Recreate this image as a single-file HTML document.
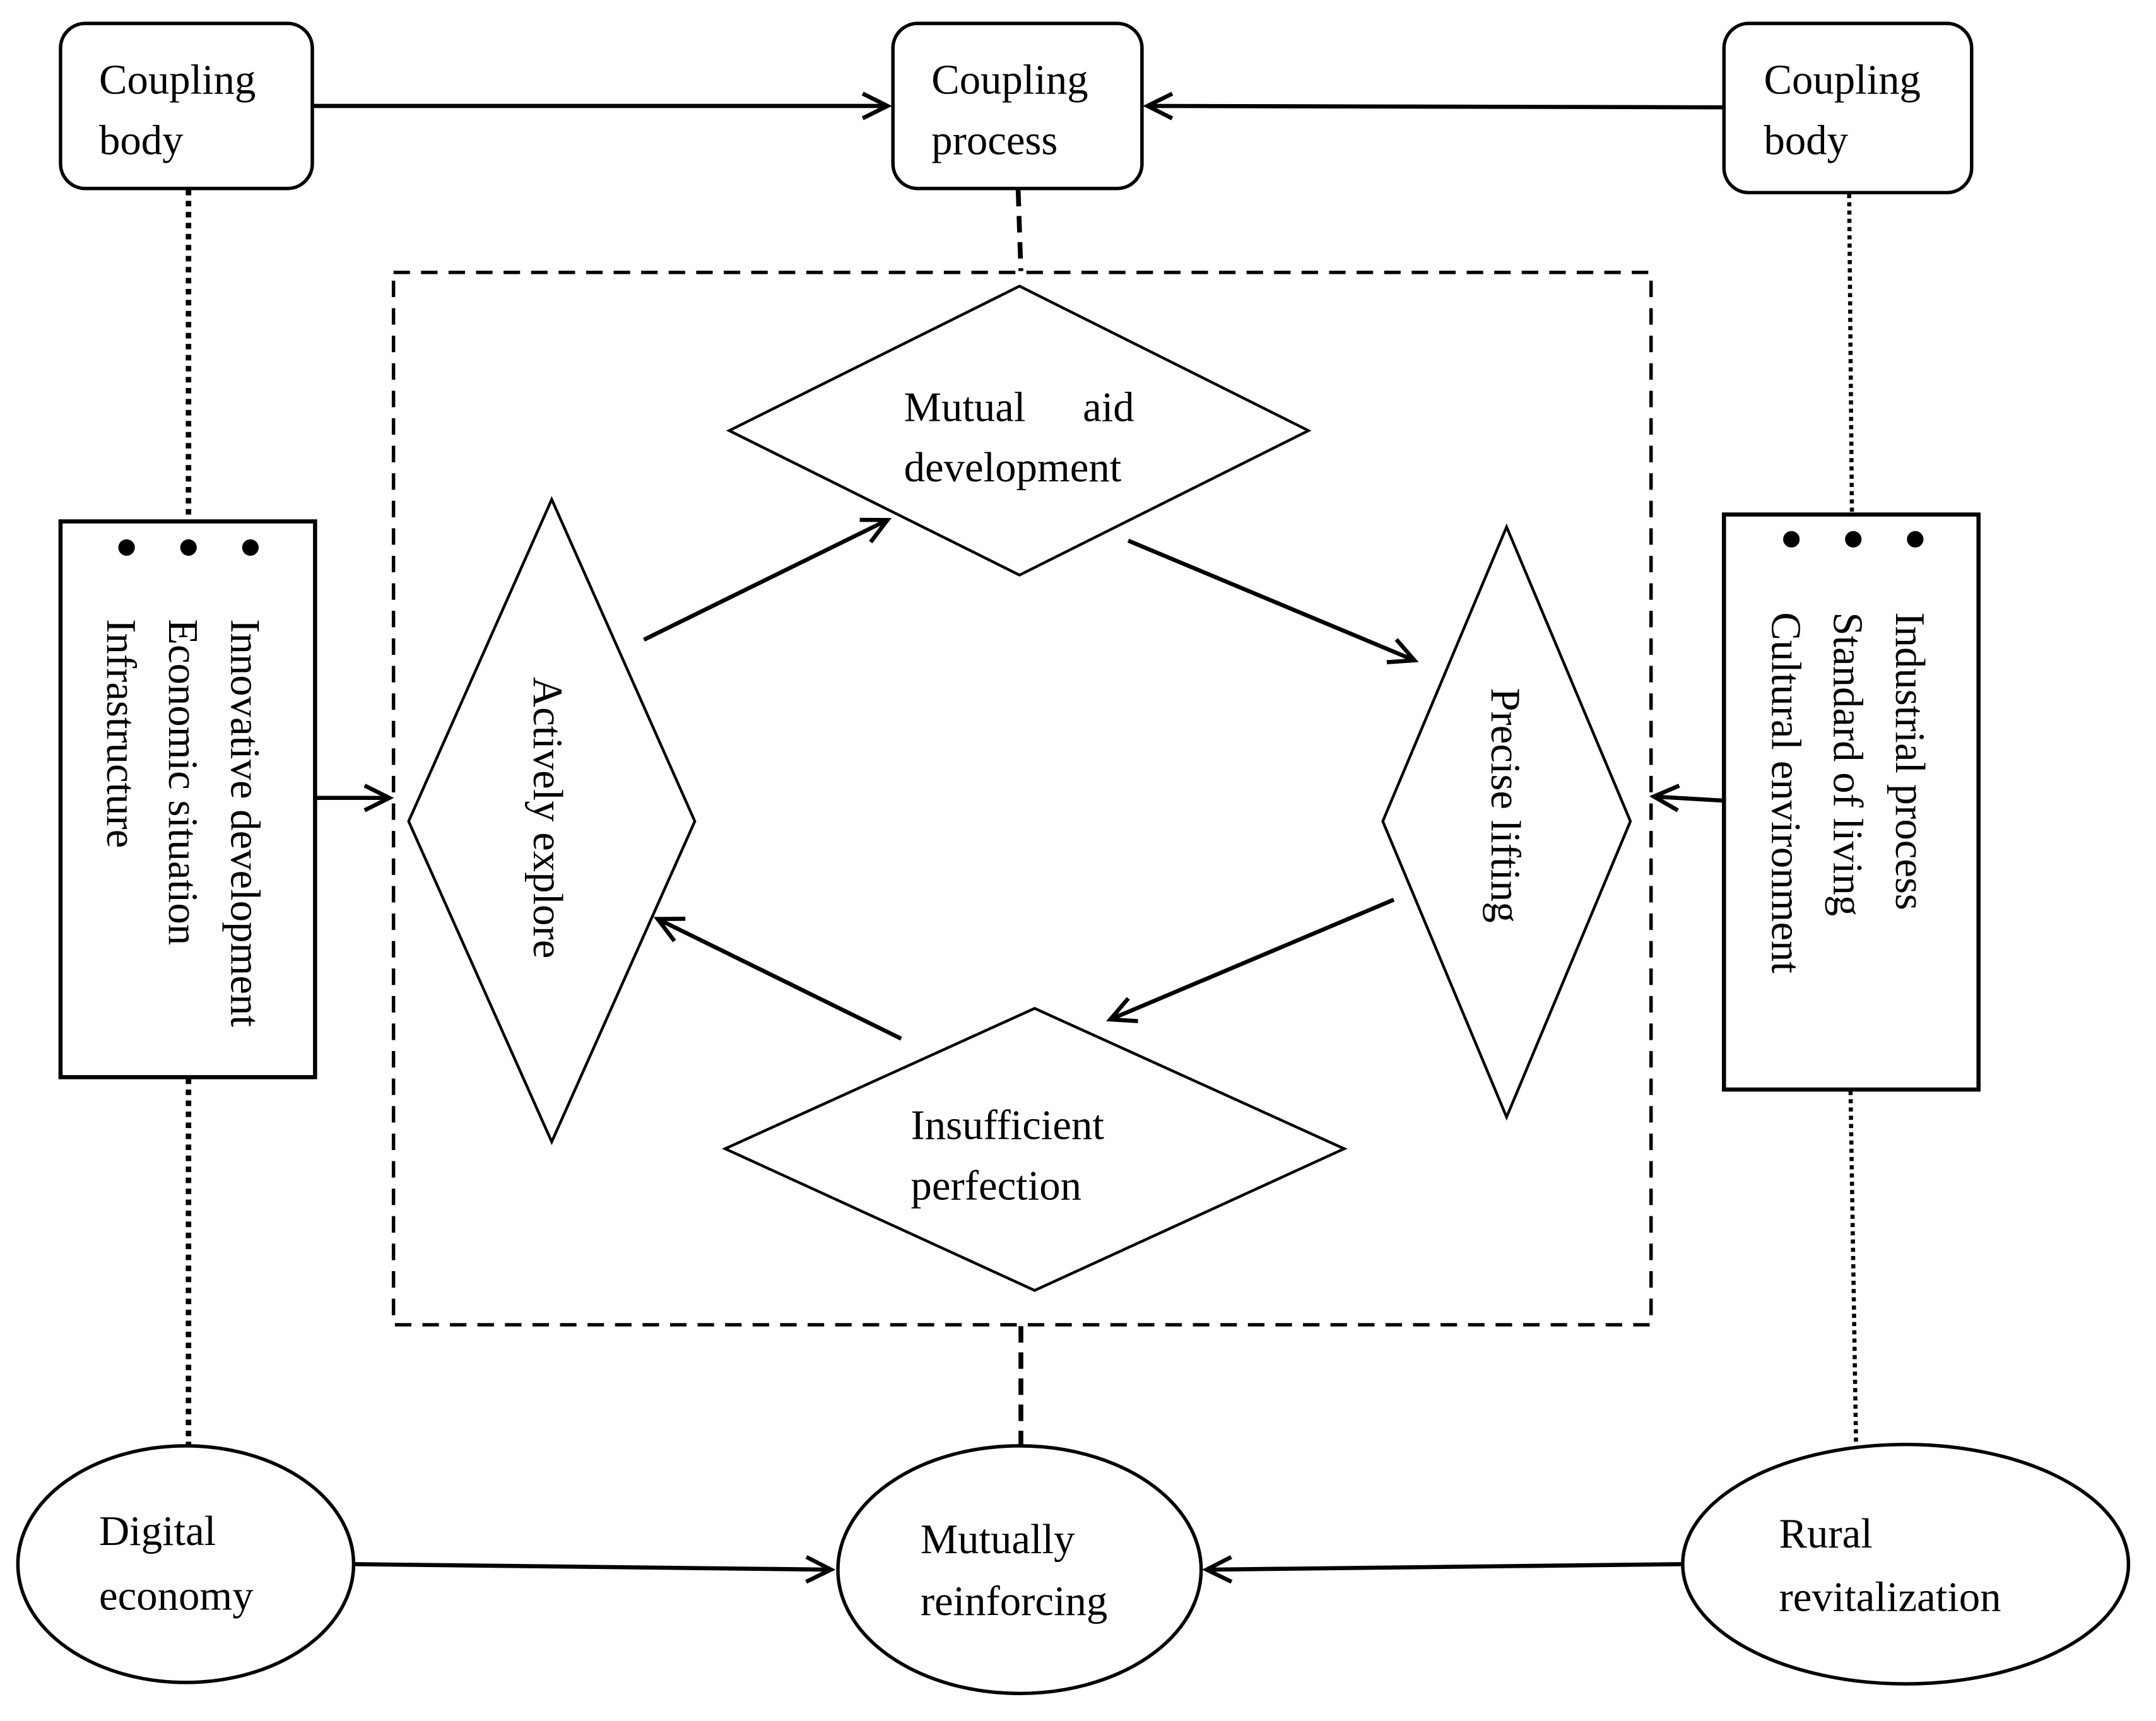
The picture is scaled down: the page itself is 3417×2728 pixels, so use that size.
<!DOCTYPE html>
<html><head><meta charset="utf-8"><style>
html,body{margin:0;padding:0;background:#fff;}
svg{display:block;}
text{font-family:"Liberation Serif",serif;font-size:30.6px;fill:#000;}
</style></head><body>
<svg width="3417" height="2728" viewBox="0 0 1567 1251" xmlns="http://www.w3.org/2000/svg">
<defs>
<marker id="a" markerWidth="24" markerHeight="24" refX="20" refY="12" orient="auto" markerUnits="userSpaceOnUse">
<path d="M2,3 L20,12 L2,21" fill="none" stroke="#000" stroke-width="3"/>
</marker>
</defs>
<g fill="none" stroke="#000">
<rect x="44" y="17" width="183" height="120" rx="18" stroke-width="2.5"/>
<rect x="649" y="17" width="181" height="120" rx="18" stroke-width="2.5"/>
<rect x="1253" y="17" width="180" height="123" rx="18" stroke-width="2.5"/>
<line x1="227" y1="77" x2="645" y2="77" stroke-width="3" marker-end="url(#a)"/>
<line x1="1253" y1="78" x2="834" y2="77" stroke-width="3" marker-end="url(#a)"/>
<line x1="137" y1="138" x2="137" y2="378" stroke-width="4" stroke-dasharray="4,4"/>
<line x1="137" y1="784" x2="137" y2="1050" stroke-width="4" stroke-dasharray="4,4"/>
<line x1="1344" y1="141" x2="1346" y2="373" stroke-width="3" stroke-dasharray="3,3"/>
<line x1="1345" y1="793" x2="1349" y2="1050" stroke-width="3" stroke-dasharray="3,3"/>
<line x1="740" y1="138" x2="742" y2="197" stroke-width="3.5" stroke-dasharray="12,7"/>
<line x1="742" y1="964" x2="742" y2="1050" stroke-width="3.5" stroke-dasharray="12,7"/>
<rect x="286" y="198" width="914" height="765" stroke-width="2.5" stroke-dasharray="12,8"/>
<rect x="44" y="379" width="185" height="404" stroke-width="3"/>
<rect x="1253" y="374" width="185" height="418" stroke-width="3"/>
<line x1="229" y1="580" x2="283" y2="580" stroke-width="3" marker-end="url(#a)"/>
<line x1="1253" y1="582" x2="1202" y2="579" stroke-width="3" marker-end="url(#a)"/>
<polygon points="530,313 741,208 951,313 741,418" stroke-width="2"/>
<polygon points="401,363 505,597 401,830 297,597" stroke-width="2"/>
<polygon points="1095,383 1185,597 1095,812 1005,597" stroke-width="2"/>
<polygon points="527,835 752,733 977,835 752,938" stroke-width="2"/>
<line x1="468" y1="465" x2="645" y2="378" stroke-width="3" marker-end="url(#a)"/>
<line x1="820" y1="393" x2="1028" y2="480" stroke-width="3" marker-end="url(#a)"/>
<line x1="1013" y1="654" x2="807" y2="741" stroke-width="3" marker-end="url(#a)"/>
<line x1="655" y1="755" x2="478" y2="668" stroke-width="3" marker-end="url(#a)"/>
<ellipse cx="135" cy="1137" rx="122" ry="86" stroke-width="2.5"/>
<ellipse cx="741" cy="1141" rx="132" ry="90" stroke-width="2.5"/>
<ellipse cx="1385" cy="1137" rx="162" ry="87" stroke-width="2.5"/>
<line x1="258" y1="1137" x2="604" y2="1141" stroke-width="3" marker-end="url(#a)"/>
<line x1="1222" y1="1137" x2="877" y2="1141" stroke-width="3" marker-end="url(#a)"/>
</g>
<g fill="#000">
<circle cx="92" cy="398" r="6"/><circle cx="137" cy="398" r="6"/><circle cx="182" cy="398" r="6"/>
<circle cx="1302" cy="392" r="6"/><circle cx="1347" cy="392" r="6"/><circle cx="1392" cy="392" r="6"/>
</g>
<text x="72" y="68">Coupling</text><text x="72" y="112">body</text>
<text x="677" y="68">Coupling</text><text x="677" y="112">process</text>
<text x="1282" y="68">Coupling</text><text x="1282" y="112">body</text>
<text x="657" y="306">Mutual</text><text x="787" y="306">aid</text>
<text x="657" y="350">development</text>
<text x="662" y="828">Insufficient</text><text x="662" y="872">perfection</text>
<text transform="translate(388,492) rotate(90)">Actively explore</text>
<text transform="translate(1084,500) rotate(90)">Precise lifting</text>
<text transform="translate(168,450) rotate(90)">Innovative development</text>
<text transform="translate(123,450) rotate(90)">Economic situation</text>
<text transform="translate(78,450) rotate(90)">Infrastructure</text>
<text transform="translate(1378,445) rotate(90)">Industrial process</text>
<text transform="translate(1333,445) rotate(90)">Standard of living</text>
<text transform="translate(1288,445) rotate(90)">Cultural environment</text>
<text x="72" y="1123">Digital</text><text x="72" y="1170">economy</text>
<text x="669" y="1129">Mutually</text><text x="669" y="1174">reinforcing</text>
<text x="1293" y="1125">Rural</text><text x="1293" y="1171">revitalization</text>
</svg>
</body></html>
